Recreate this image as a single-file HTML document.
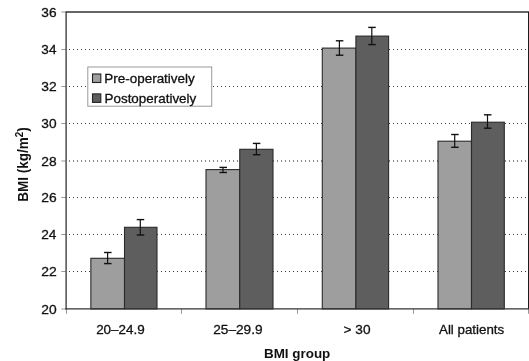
<!DOCTYPE html>
<html><head><meta charset="utf-8"><style>
html,body{margin:0;padding:0;background:#fff;overflow:hidden;}
svg{display:block;filter:grayscale(1) blur(0.3px);}
.t{font-family:"Liberation Sans",sans-serif;font-size:13.0px;fill:#111;stroke:#111;stroke-width:0.3px;}
.b{font-family:"Liberation Sans",sans-serif;font-size:13.0px;font-weight:bold;fill:#111;}
</style></head><body>
<svg width="529" height="361" viewBox="0 0 529 361">
<rect x="0" y="0" width="529" height="361" fill="#fff"/>
<line x1="67" y1="49.5" x2="528" y2="49.5" stroke="#3c3c3c" stroke-width="1" stroke-dasharray="1 3" stroke-dashoffset="2"/>
<line x1="67" y1="86.5" x2="528" y2="86.5" stroke="#3c3c3c" stroke-width="1" stroke-dasharray="1 3" stroke-dashoffset="2"/>
<line x1="67" y1="123.5" x2="528" y2="123.5" stroke="#3c3c3c" stroke-width="1" stroke-dasharray="1 3" stroke-dashoffset="2"/>
<line x1="67" y1="161.0" x2="528" y2="161.0" stroke="#111" stroke-width="1" stroke-dasharray="1 3" stroke-dashoffset="2"/>
<line x1="67" y1="197.5" x2="528" y2="197.5" stroke="#3c3c3c" stroke-width="1" stroke-dasharray="1 3" stroke-dashoffset="2"/>
<line x1="67" y1="234.5" x2="528" y2="234.5" stroke="#3c3c3c" stroke-width="1" stroke-dasharray="1 3" stroke-dashoffset="2"/>
<line x1="67" y1="271.5" x2="528" y2="271.5" stroke="#3c3c3c" stroke-width="1" stroke-dasharray="1 3" stroke-dashoffset="2"/>
<line x1="61.3" y1="49.5" x2="66" y2="49.5" stroke="#999" stroke-width="1"/>
<line x1="61.3" y1="86.5" x2="66" y2="86.5" stroke="#999" stroke-width="1"/>
<line x1="61.3" y1="123.5" x2="66" y2="123.5" stroke="#999" stroke-width="1"/>
<line x1="61.3" y1="161.0" x2="66" y2="161.0" stroke="#999" stroke-width="1"/>
<line x1="61.3" y1="197.5" x2="66" y2="197.5" stroke="#999" stroke-width="1"/>
<line x1="61.3" y1="234.5" x2="66" y2="234.5" stroke="#999" stroke-width="1"/>
<line x1="61.3" y1="271.5" x2="66" y2="271.5" stroke="#999" stroke-width="1"/>
<line x1="61.3" y1="12.0" x2="66" y2="12.0" stroke="#999" stroke-width="1"/>
<line x1="61.3" y1="309.0" x2="66" y2="309.0" stroke="#999" stroke-width="1"/>
<line x1="66.5" y1="309" x2="66.5" y2="313.8" stroke="#999" stroke-width="1"/>
<line x1="181.5" y1="309" x2="181.5" y2="313.8" stroke="#999" stroke-width="1"/>
<line x1="297.5" y1="309" x2="297.5" y2="313.8" stroke="#999" stroke-width="1"/>
<line x1="413.5" y1="309" x2="413.5" y2="313.8" stroke="#999" stroke-width="1"/>
<line x1="528.5" y1="309" x2="528.5" y2="313.8" stroke="#999" stroke-width="1"/>
<rect x="90.85" y="258.30" width="33.65" height="50.60" fill="#9e9e9e" stroke="#2a2a2a" stroke-width="1.1"/>
<rect x="124.50" y="227.30" width="32.50" height="81.60" fill="#5e5e5e" stroke="#2a2a2a" stroke-width="1.1"/>
<rect x="206.00" y="169.60" width="33.75" height="139.30" fill="#9e9e9e" stroke="#2a2a2a" stroke-width="1.1"/>
<rect x="239.75" y="149.30" width="33.25" height="159.60" fill="#5e5e5e" stroke="#2a2a2a" stroke-width="1.1"/>
<rect x="322.30" y="48.10" width="33.60" height="260.80" fill="#9e9e9e" stroke="#2a2a2a" stroke-width="1.1"/>
<rect x="355.90" y="36.10" width="32.70" height="272.80" fill="#5e5e5e" stroke="#2a2a2a" stroke-width="1.1"/>
<rect x="438.00" y="141.20" width="33.50" height="167.70" fill="#9e9e9e" stroke="#2a2a2a" stroke-width="1.1"/>
<rect x="471.50" y="122.20" width="32.80" height="186.70" fill="#5e5e5e" stroke="#2a2a2a" stroke-width="1.1"/>
<line x1="107.60" y1="252.5" x2="107.60" y2="263.6" stroke="#111" stroke-width="1.2"/>
<line x1="104.05" y1="252.5" x2="111.55" y2="252.5" stroke="#111" stroke-width="1.4"/>
<line x1="104.05" y1="263.6" x2="111.55" y2="263.6" stroke="#111" stroke-width="1.4"/>
<line x1="140.30" y1="219.6" x2="140.30" y2="235.0" stroke="#111" stroke-width="1.2"/>
<line x1="136.75" y1="219.6" x2="144.25" y2="219.6" stroke="#111" stroke-width="1.4"/>
<line x1="136.75" y1="235.0" x2="144.25" y2="235.0" stroke="#111" stroke-width="1.4"/>
<line x1="223.00" y1="167.4" x2="223.00" y2="172.5" stroke="#111" stroke-width="1.2"/>
<line x1="219.45" y1="167.4" x2="226.95" y2="167.4" stroke="#111" stroke-width="1.4"/>
<line x1="219.45" y1="172.5" x2="226.95" y2="172.5" stroke="#111" stroke-width="1.4"/>
<line x1="256.40" y1="143.4" x2="256.40" y2="154.7" stroke="#111" stroke-width="1.2"/>
<line x1="252.85" y1="143.4" x2="260.35" y2="143.4" stroke="#111" stroke-width="1.4"/>
<line x1="252.85" y1="154.7" x2="260.35" y2="154.7" stroke="#111" stroke-width="1.4"/>
<line x1="339.40" y1="40.8" x2="339.40" y2="55.2" stroke="#111" stroke-width="1.2"/>
<line x1="335.85" y1="40.8" x2="343.35" y2="40.8" stroke="#111" stroke-width="1.4"/>
<line x1="335.85" y1="55.2" x2="343.35" y2="55.2" stroke="#111" stroke-width="1.4"/>
<line x1="371.80" y1="27.4" x2="371.80" y2="44.6" stroke="#111" stroke-width="1.2"/>
<line x1="368.25" y1="27.4" x2="375.75" y2="27.4" stroke="#111" stroke-width="1.4"/>
<line x1="368.25" y1="44.6" x2="375.75" y2="44.6" stroke="#111" stroke-width="1.4"/>
<line x1="454.70" y1="134.5" x2="454.70" y2="147.3" stroke="#111" stroke-width="1.2"/>
<line x1="451.15" y1="134.5" x2="458.65" y2="134.5" stroke="#111" stroke-width="1.4"/>
<line x1="451.15" y1="147.3" x2="458.65" y2="147.3" stroke="#111" stroke-width="1.4"/>
<line x1="487.50" y1="114.8" x2="487.50" y2="128.2" stroke="#111" stroke-width="1.2"/>
<line x1="483.95" y1="114.8" x2="491.45" y2="114.8" stroke="#111" stroke-width="1.4"/>
<line x1="483.95" y1="128.2" x2="491.45" y2="128.2" stroke="#111" stroke-width="1.4"/>
<line x1="66" y1="12.0" x2="529" y2="12.0" stroke="#333" stroke-width="1.3"/>
<line x1="528.6" y1="12.0" x2="528.6" y2="308.9" stroke="#111" stroke-width="1.1"/>
<line x1="66.1" y1="11.4" x2="66.1" y2="309.5" stroke="#333" stroke-width="1.3"/>
<line x1="65.5" y1="308.9" x2="529" y2="308.9" stroke="#333" stroke-width="1.3"/>
<rect x="87.8" y="67.0" width="123.9" height="39.2" fill="#fff" stroke="#999" stroke-width="1"/>
<rect x="92.5" y="74.0" width="8.3" height="8.5" fill="#9e9e9e" stroke="#222" stroke-width="1.1"/>
<rect x="92.5" y="93.9" width="8.3" height="8.5" fill="#5e5e5e" stroke="#222" stroke-width="1.1"/>
<text transform="translate(104.22,82.60) scale(1.0368,1.0)" class="t">Pre-operatively</text>
<text transform="translate(104.53,102.70) scale(1.0325,1.0)" class="t">Postoperatively</text>
<text transform="translate(41.35,16.71) scale(1.0530,1.0)" class="t">36</text>
<text transform="translate(41.36,54.12) scale(1.0429,1.0)" class="t">34</text>
<text transform="translate(41.35,91.11) scale(1.0633,1.0)" class="t">32</text>
<text transform="translate(41.35,128.12) scale(1.0530,1.0)" class="t">30</text>
<text transform="translate(41.21,165.72) scale(1.0633,1.0)" class="t">28</text>
<text transform="translate(41.21,202.22) scale(1.0633,1.0)" class="t">26</text>
<text transform="translate(41.22,239.31) scale(1.0530,1.0)" class="t">24</text>
<text transform="translate(41.20,276.22) scale(1.0739,1.0)" class="t">22</text>
<text transform="translate(41.21,313.72) scale(1.0633,1.0)" class="t">20</text>
<text transform="translate(96.13,334.00) scale(1.0358,1.0)" class="t">20–24.9</text>
<text transform="translate(213.22,334.00) scale(1.0511,1.0)" class="t">25–29.9</text>
<text transform="translate(343.52,334.00) scale(1.0516,1.0)" class="t">&gt; 30</text>
<text transform="translate(439.00,334.00) scale(1.0256,1.0)" class="t">All patients</text>
<text transform="translate(263.96,357.70) scale(1.0336,1.05)" class="b">BMI group</text>
<text transform="translate(27.9,201.8) rotate(-90) scale(1.042,1.1)" class="b">BMI (kg/m<tspan dy="-4.3" font-size="9.5">2</tspan><tspan dy="4.3">)</tspan></text>
</svg>
</body></html>
